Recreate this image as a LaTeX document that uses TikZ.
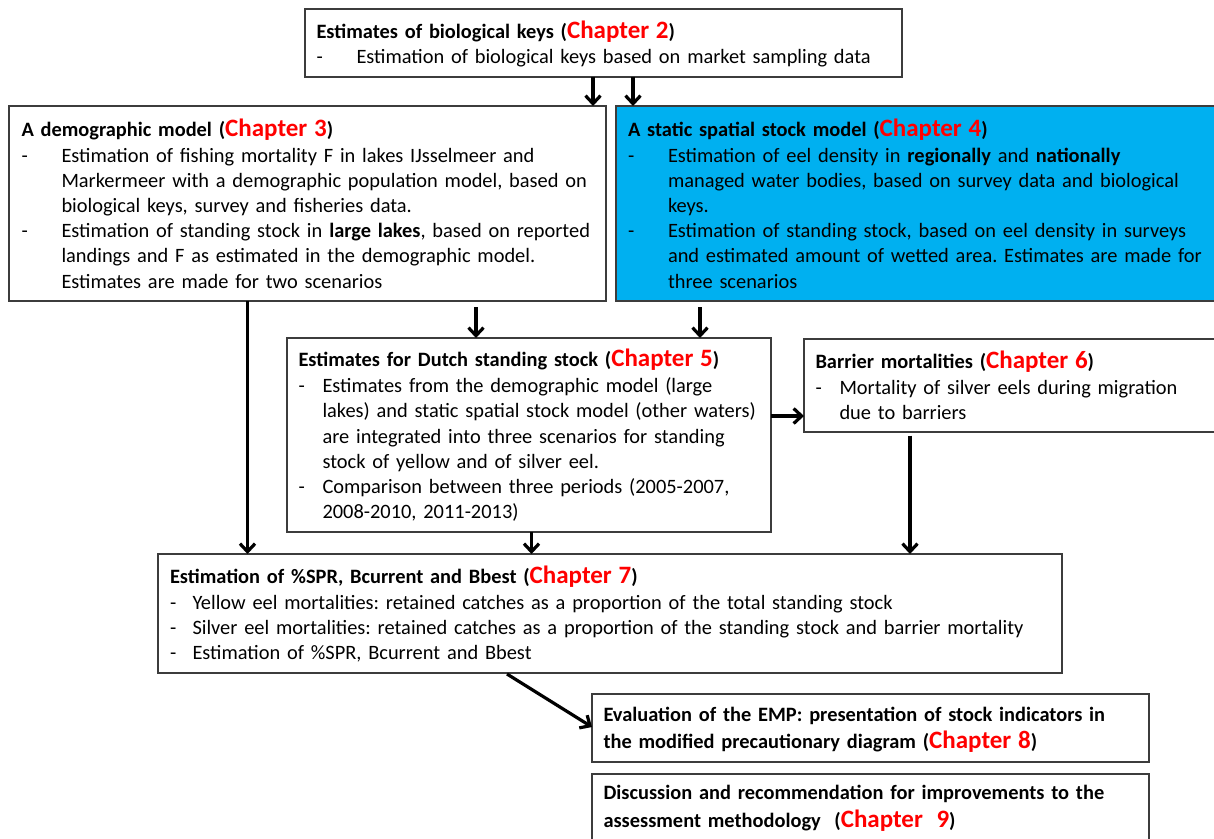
\documentclass[tikz,border=0pt]{standalone}
\usepackage{fontspec}
\setmainfont{Carlito}
\usetikzlibrary{arrows.meta}
\definecolor{chapred}{RGB}{255,0,0}
\definecolor{boxblue}{RGB}{0,176,240}
\definecolor{edgegray}{RGB}{60,60,60}
\newcommand{\chap}[1]{\textcolor{chapred}{\fontsize{25}{25}\selectfont #1}}
\newcommand{\dashto}[1]{\makebox[#1][l]{\textcolor{black}{-}}}
\frenchspacing
\begin{document}
\begin{tikzpicture}[x=1pt,y=-1pt,
  box/.style={draw=edgegray, line width=1.2pt, fill=white, anchor=north west, inner sep=0pt, outer sep=0pt},
  txt/.style={anchor=base west, inner sep=0pt, outer sep=0pt, align=left, text width=1000pt, text=black,
    font=\frenchspacing\fontsize{20.4}{25.2}\selectfont},
  flow/.style={line width=3.2pt, -{Straight Barb[length=8pt,width=15pt,line width=3.2pt]}}
]
\useasboundingbox (0,0) rectangle (1214,838);
\clip (0,0) rectangle (1214,838);

% boxes
\node[box, minimum width=597pt, minimum height=68pt] (b2) at (305,9) {};
\node[box, minimum width=597pt, minimum height=195pt] (b3) at (9,106) {};
\node[box, fill=boxblue, minimum width=614pt, minimum height=195pt] (b4) at (616,106) {};
\node[box, minimum width=484pt, minimum height=194pt] (b5) at (287,338) {};
\node[box, minimum width=426pt, minimum height=93pt] (b6) at (804,339) {};
\node[box, minimum width=904pt, minimum height=119pt] (b7) at (158,554) {};
\node[box, minimum width=557pt, minimum height=68pt] (b8) at (592,694) {};
\node[box, minimum width=557pt, minimum height=76pt] (b9) at (592,774) {};

% texts
\node[txt] (t2) at (316.5,38.5) {\textbf{Estimates of biological keys (\chap{Chapter 2})}\\
\dashto{40pt}Estimation of biological keys based on market sampling data};

\node[txt] (t3) at (21.5,136) {\textbf{A demographic model (\chap{Chapter 3})}\\[0.8pt]
\dashto{40pt}Estimation of fishing mortality F in lakes IJsselmeer and\\
\hspace*{40pt}Markermeer with a demographic population model, based on\\
\hspace*{40pt}biological keys, survey and fisheries data.\\
\dashto{40pt}Estimation of standing stock in \textbf{large lakes}, based on reported\\
\hspace*{40pt}landings and F as estimated in the demographic model.\\
\hspace*{40pt}Estimates are made for two scenarios};

\node[txt] (t4) at (628,136) {\textbf{A static spatial stock model (\chap{Chapter 4})}\\[0.8pt]
\dashto{40pt}Estimation of eel density in \textbf{regionally} and \textbf{nationally}\\
\hspace*{40pt}managed water bodies, based on survey data and biological\\
\hspace*{40pt}keys.\\
\dashto{40pt}Estimation of standing stock, based on eel density in surveys\\
\hspace*{40pt}and estimated amount of wetted area. Estimates are made for\\
\hspace*{40pt}three scenarios};

\node[txt] (t5) at (298.5,366.7) {\textbf{Estimates for Dutch standing stock (\chap{Chapter 5})}\\[0.8pt]
\dashto{24pt}Estimates from the demographic model (large\\
\hspace*{24pt}lakes) and static spatial stock model (other waters)\\
\hspace*{24pt}are integrated into three scenarios for standing\\
\hspace*{24pt}stock of yellow and of silver eel.\\
\dashto{24pt}Comparison between three periods (2005-2007,\\
\hspace*{24pt}2008-2010, 2011-2013)};

\node[txt] (t6) at (815.5,368) {\textbf{Barrier mortalities (\chap{Chapter 6})}\\[0.8pt]
\dashto{24pt}Mortality of silver eels during migration\\
\hspace*{24pt}due to barriers};

\node[txt] (t7) at (170,583) {\textbf{Estimation of \%SPR, Bcurrent and Bbest (\chap{Chapter 7})}\\[1pt]
\dashto{22.5pt}Yellow eel mortalities: retained catches as a proportion of the total standing stock\\
\dashto{22.5pt}Silver eel mortalities: retained catches as a proportion of the standing stock and barrier mortality\\
\dashto{22.5pt}Estimation of \%SPR, Bcurrent and Bbest};

\node[txt, font=\frenchspacing\fontsize{20.4}{25.2}\selectfont\bfseries] (t8) at (603.5,721) {Evaluation of the EMP: presentation of stock indicators in\\[1.8pt]
the modified precautionary diagram (\chap{Chapter 8})};

\node[txt, font=\frenchspacing\fontsize{20.4}{25.2}\selectfont\bfseries] (t9) at (603.5,799) {Discussion and recommendation for improvements to the\\[2.8pt]
assessment methodology\ \ (\chap{Chapter\ \ 9})};

% arrow anchor columns
\coordinate (c593) at (593,0);
\coordinate (c633) at (633,0);
\coordinate (c476) at (476,0);
\coordinate (c700) at (700,0);
\coordinate (c247) at (247.5,0);
\coordinate (c531) at (531.5,0);
\coordinate (c910) at (910,0);
\coordinate (r416) at (0,416);
\coordinate (s507) at (507,674);

\draw[flow] (b2.south -| c593) -- (b3.north -| c593);
\draw[flow] (b2.south -| c633) -- (b4.north -| c633);
\draw[flow] ([yshift=-6pt]b3.south -| c476) -- (b5.north -| c476);
\draw[flow] ([yshift=-6pt]b4.south -| c700) -- (b5.north -| c700);
\draw[flow] (b3.south -| c247) -- (b7.north -| c247);
\draw[flow] (b5.south -| c531) -- (b7.north -| c531);
\draw[flow] ([yshift=-3.5pt]b6.south -| c910) -- (b7.north -| c910);
\draw[flow] (b5.east |- r416) -- (b6.west |- r416);
\draw[flow] (s507) -- ([yshift=1pt]b8.west);
\end{tikzpicture}
\end{document}
